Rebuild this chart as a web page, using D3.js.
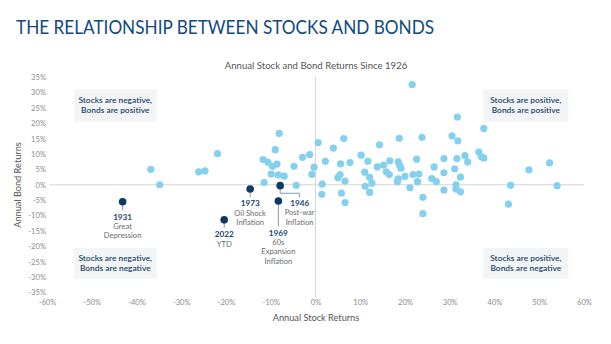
<!DOCTYPE html>
<html><head><meta charset="utf-8">
<script src="https://cdn.jsdelivr.net/npm/d3@7/dist/d3.min.js"></script>
<style>
html,body{margin:0;padding:0;background:#fff;}
svg{display:block;font-family:Lato, "Open Sans", sans-serif;}
</style></head>
<body>
<svg id="chart" width="611" height="344"></svg>
<script>
// Annual stock returns (%) and bond returns (%) — light points
const stockReturns = [-36.8,-34.8,-26.1,-24.7,-21.9,-11.7,-10.6,-9.0,-8.1,-9.6,-8.6,-9.9,-8.3,-7.0,-11.5,-4.8,-4.3,-2.9,-1.3,-0.3,-0.8,
  0.6,4.0,6.3,2.2,5.6,7.7,10.2,5.5,5.0,6.6,1.5,1.4,5.8,6.6,21.6,18.7,23.8,14.3,11.7,13.8,15.2,16.6,18.5,18.8,19.1,22.6,
  11.0,12.1,12.6,11.1,12.1,15.8,16.5,18.5,18.3,20.0,21.8,23.1,22.8,21.1,24.0,24.0,26.5,26.0,27.0,28.7,28.7,28.7,
  31.1,31.6,33.4,34.0,32.4,31.4,31.4,32.4,31.7,37.6,30.5,31.8,36.5,37.1,37.6,43.6,47.7,52.3,54.0,43.1];
const bondReturns = [5.0,0.0,4.2,4.5,10.1,8.2,7.3,11.4,16.7,6.0,6.7,3.5,3.2,2.8,0.7,6.0,-0.2,8.9,9.8,5.7,3.4,
  13.7,11.9,15.0,7.6,6.8,7.2,9.6,3.3,2.3,1.2,0.2,-3.1,-2.7,-5.8,32.5,15.1,15.4,13.0,7.6,5.8,6.4,7.8,7.4,6.3,5.4,8.3,
  4.1,2.4,0.5,-0.5,-2.5,4.2,3.3,1.9,1.0,2.7,3.3,3.5,1.0,-1.0,-4.1,-9.4,5.8,2.0,1.0,8.5,3.9,-1.7,
  5.2,8.5,9.5,7.4,2.5,0.0,-1.4,-2.3,22.0,18.3,15.9,14.3,10.6,9.1,8.7,-0.2,4.8,7.1,-0.3,-6.3];

// Highlighted years
const highlightYears = ["1931","2022","1973","1969","1946"];
const highlightStocks = [-43.1,-20.4,-14.6,-8.3,-7.9];
const highlightBonds = [-5.5,-11.4,-1.4,-5.3,-0.3];
const highlightNotes = [["Great","Depression"],["YTD"],["Oil Shock","Inflation"],["60s","Expansion","Inflation"],["Post-war","Inflation"]];

const xTicks = [-60,-50,-40,-30,-20,-10,0,10,20,30,40,50,60];
const yTicks = [35,30,25,20,15,10,5,0,-5,-10,-15,-20,-25,-30,-35];
const quadrantTexts = [
  ["Stocks are negative,","Bonds are positive"],
  ["Stocks are positive,","Bonds are positive"],
  ["Stocks are negative,","Bonds are negative"],
  ["Stocks are positive,","Bonds are negative"]
];

const svg = d3.select("#chart");
const navy = "#17466f", light = "#84d0ef", dark = "#0c3a64";

const x = d3.scaleLinear().domain([-60,60]).range([47,584]);
const y = d3.scaleLinear().domain([-35,35]).range([292.5,77]);

// Title
svg.append("text").attr("x",16).attr("y",33.5).attr("fill","#0f4a80")
  .attr("font-size",18.5).attr("textLength",418).attr("lengthAdjust","spacingAndGlyphs")
  .text("THE RELATIONSHIP BETWEEN STOCKS AND BONDS");
svg.append("text").attr("x",316).attr("y",68.5).attr("text-anchor","middle")
  .attr("fill","#555").attr("font-size",9.6).text("Annual Stock and Bond Returns Since 1926");

// Quadrant boxes
const boxes = [[-54,-35.5,31,20.5],[37.5,56.5,31,20.5],[-54,-35.5,-20.5,-30.5],[37.5,56.5,-20.5,-30.5]];
boxes.forEach((b,i)=>{
  const g = svg.append("g");
  g.append("rect").attr("x",x(b[0])).attr("width",x(b[1])-x(b[0]))
    .attr("y",y(b[2])).attr("height",y(b[3])-y(b[2])).attr("fill","#f3f4f5");
  const cx = (x(b[0])+x(b[1]))/2, cy = (y(b[2])+y(b[3]))/2;
  quadrantTexts[i].forEach((t,j)=>{
    g.append("text").attr("x",cx).attr("y",cy-5+j*10).attr("dy","0.35em")
      .attr("text-anchor","middle").attr("fill",navy).attr("font-size",8.4)
      .attr("font-weight",600).text(t);
  });
});

// Axes lines
svg.append("line").attr("x1",x(-59.5)).attr("x2",x(60)).attr("y1",y(0)).attr("y2",y(0))
  .attr("stroke","#d6d6d6").attr("stroke-width",1);
svg.append("line").attr("x1",x(0)).attr("x2",x(0)).attr("y1",y(35)).attr("y2",y(-36.5))
  .attr("stroke","#d6d6d6").attr("stroke-width",1);

// Tick labels via axes (no lines)
const fmt = d=>d+"%";
const yAxis = svg.append("g").attr("transform","translate(46,0)")
  .call(d3.axisLeft(y).tickValues(yTicks).tickFormat(fmt).tickSize(0).tickPadding(0));
const xAxis = svg.append("g").attr("transform","translate(0,299.5)")
  .call(d3.axisBottom(x).tickValues(xTicks).tickFormat(fmt).tickSize(0).tickPadding(0));
[yAxis,xAxis].forEach(a=>{
  a.select(".domain").remove();
  a.selectAll("text").attr("fill","#8c8c8c").attr("font-size",7.6).attr("font-family","Lato, sans-serif");
});

// Axis titles
svg.append("text").attr("x",316).attr("y",320.5).attr("text-anchor","middle")
  .attr("fill","#555").attr("font-size",9.2).text("Annual Stock Returns");
svg.append("text").attr("transform","translate(21,185) rotate(-90)").attr("text-anchor","middle")
  .attr("fill","#555").attr("font-size",9.2).text("Annual Bond Returns");

// Light points
svg.append("g").selectAll("circle").data(stockReturns).join("circle")
  .attr("cx",d=>x(d)).attr("cy",(d,i)=>y(bondReturns[i])).attr("r",3.6).attr("fill",light);

// Highlight annotations
const labelDy = [15,14.5,14.5,32,0];
highlightYears.forEach((yr,i)=>{
  const cx = x(highlightStocks[i]), cy = y(highlightBonds[i]);
  const g = svg.append("g");
  let lx = cx, ly = cy + labelDy[i];
  if (yr === "1946") {
    lx = cx + 19.5; ly = cy + 17.5;
    g.append("path").attr("d",`M${cx},${cy+3.5}V${cy+7.6}H${lx}V${cy+11.5}`)
      .attr("fill","none").attr("stroke","#7f9cb8").attr("stroke-width",1);
  } else {
    g.append("line").attr("x1",cx).attr("x2",cx).attr("y1",cy+3.5).attr("y2",ly-6.5)
      .attr("stroke","#7f9cb8").attr("stroke-width",1);
  }
  g.append("circle").attr("cx",cx).attr("cy",cy).attr("r",3.8).attr("fill",dark);
  g.append("text").attr("x",lx).attr("y",ly).attr("dy","0.35em").attr("text-anchor","middle")
    .attr("fill",navy).attr("font-size",8.2).attr("font-weight",700).text(yr);
  highlightNotes[i].forEach((t,j)=>{
    g.append("text").attr("x",lx).attr("y",ly+9.5+9.2*j).attr("dy","0.35em").attr("text-anchor","middle")
      .attr("fill","#6a6a6a").attr("font-size",7.6).text(t);
  });
});
</script>
</body></html>
